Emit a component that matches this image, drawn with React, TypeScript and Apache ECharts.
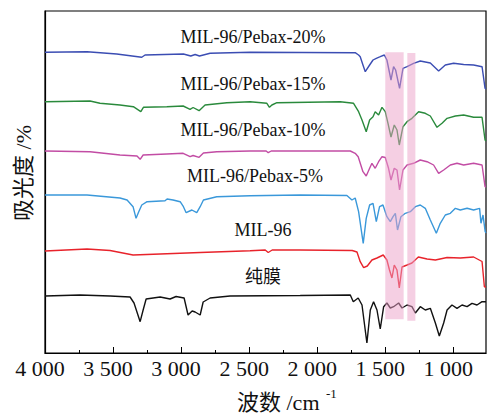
import React, { useEffect, useRef } from "react";
import * as echarts from "echarts";

// Wavenumber (cm^-1) and stacked absorbance-like values (arbitrary units, offset per spectrum)
const pebax20: [number, number][] = [
  [4000, 300.7], [3691, 301.3], [3473, 299], [3289, 295.7], [3265, 298], [2983, 299], [2929, 297],
  [2897, 298.5], [2865, 297], [2787, 299.7], [2493, 300.7], [1721, 300.3], [1696, 298], [1684, 296.3],
  [1664, 288], [1647, 281.3], [1615, 288], [1590, 293], [1566, 294.7], [1537, 296.3], [1507, 298],
  [1488, 293], [1458, 273], [1439, 286.3], [1424, 283], [1395, 264.7], [1370, 284.7], [1340, 286.3],
  [1292, 289.7], [1243, 292], [1169, 290], [1108, 282], [1059, 288], [998, 289.7], [924, 288.5],
  [851, 288], [789, 286.3], [767, 264.7], [760, 264],
];
const pebax15: [number, number][] = [
  [4000, 251.3], [3669, 252], [3596, 249.7], [3449, 248], [3351, 246.3], [3296, 241.3], [3277, 245.7],
  [3105, 246.3], [2985, 247], [2934, 243.7], [2912, 245.5], [2868, 242.3], [2824, 248], [2664, 250.3],
  [2493, 251.3], [2370, 249.7], [2351, 245.7], [2333, 248], [2296, 250.3], [1831, 251.3], [1733, 249.7],
  [1696, 241.3], [1671, 233], [1640, 221.3], [1615, 233], [1590, 236.3], [1574, 241.3], [1549, 238],
  [1524, 245.7], [1500, 241.3], [1480, 229.7], [1458, 216], [1434, 228], [1414, 223], [1397, 208],
  [1370, 226.3], [1340, 231.3], [1304, 234.7], [1255, 241.3], [1206, 239.7], [1169, 237], [1120, 225.7],
  [1083, 229.7], [1046, 234.7], [985, 237], [924, 238], [851, 235.7], [789, 235.7], [767, 213], [760, 212],
];
const pebax10: [number, number][] = [
  [4000, 202], [3669, 201.3], [3449, 198], [3324, 197], [3301, 193.7], [3279, 198], [3105, 199],
  [2985, 199.7], [2934, 196.3], [2912, 197.5], [2868, 195.7], [2836, 200], [2738, 201.3], [2493, 202],
  [2375, 202], [2360, 200.3], [2338, 202], [1757, 202], [1721, 199.7], [1699, 196.3], [1664, 181.3],
  [1640, 177], [1615, 184.7], [1598, 189.7], [1574, 184.7], [1549, 191.3], [1524, 196.3], [1500, 195.5],
  [1476, 184.7], [1458, 173], [1434, 184.7], [1414, 183], [1395, 163], [1370, 183], [1340, 188],
  [1292, 189.7], [1243, 193], [1193, 191.3], [1145, 188], [1108, 179.7], [1071, 183], [1022, 188],
  [973, 189.7], [924, 188], [851, 189.7], [789, 188], [767, 166.3], [760, 166],
];
const pebax5: [number, number][] = [
  [4000, 158], [3691, 158], [3449, 155], [3397, 153], [3353, 146.3], [3331, 134.7], [3312, 141],
  [3289, 148], [3250, 151.3], [3118, 152.3], [3103, 154], [3059, 153], [3007, 151.3], [2983, 146.3],
  [2963, 140.3], [2921, 143], [2885, 140.3], [2860, 146.3], [2836, 153], [2738, 156.3], [2493, 157.3],
  [2125, 158], [1782, 157.5], [1745, 153], [1721, 155], [1696, 141.3], [1662, 109.7], [1640, 134.7],
  [1615, 148], [1590, 149.7], [1566, 131.3], [1542, 146.3], [1517, 148], [1488, 136.3], [1463, 131.3],
  [1443, 136.3], [1426, 139.7], [1410, 123], [1385, 136.3], [1353, 139.7], [1316, 141.3], [1279, 146.3],
  [1243, 148], [1206, 144.7], [1169, 133], [1125, 119.7], [1096, 129.7], [1059, 138], [1022, 139.7],
  [985, 144.7], [949, 143], [899, 144.7], [851, 143], [807, 144.7], [797, 129.7], [782, 138],
  [766, 121.3], [760, 120],
];
const mil96: [number, number][] = [
  [4000, 102], [3691, 104], [3522, 102.5], [3353, 98], [3154, 99], [2860, 100.5], [2493, 102.3],
  [2382, 103], [2360, 100.5], [2331, 103], [2125, 103], [1743, 102.5], [1708, 101], [1684, 91.3],
  [1659, 85.3], [1632, 87], [1598, 93], [1561, 95], [1515, 98], [1488, 93], [1469, 83], [1451, 75],
  [1434, 88], [1414, 83], [1397, 65], [1377, 86], [1340, 88], [1304, 90], [1257, 96], [1193, 94],
  [1132, 93], [1046, 95.5], [949, 95], [851, 96], [789, 91.5], [772, 66.3], [760, 66],
];
const pureFilm: [number, number][] = [
  [4000, 57], [3743, 58], [3522, 57], [3375, 56], [3346, 50], [3301, 31.3], [3279, 43], [3257, 54],
  [3154, 56], [3081, 54], [3037, 56.5], [2978, 55], [2949, 38], [2919, 42], [2897, 41], [2860, 38],
  [2838, 51], [2787, 55], [2640, 57], [2125, 57.5], [1757, 58], [1735, 51.3], [1699, 55], [1671, 48],
  [1635, 10], [1610, 43], [1586, 51.3], [1561, 43], [1537, 24], [1512, 46.3], [1488, 50], [1463, 45],
  [1439, 46.3], [1402, 50], [1377, 45], [1340, 48], [1304, 46.3], [1279, 40], [1243, 46.3], [1206, 43],
  [1169, 44.7], [1132, 30], [1103, 17], [1071, 30], [1046, 43], [1010, 48], [973, 44.7], [936, 48],
  [899, 46.3], [863, 49.7], [826, 48], [789, 51.3], [760, 51.3],
];

const seriesNames = ["MIL-96/Pebax-20%", "MIL-96/Pebax-15%", "MIL-96/Pebax-10%", "MIL-96/Pebax-5%", "MIL-96", "纯膜"];
const seriesData = [pebax20, pebax15, pebax10, pebax5, mil96, pureFilm];
const seriesColors = ["#3b4db3", "#2a8a3c", "#c24ca4", "#3a98da", "#e8232b", "#111111"];

const majorTicks = [1000, 1500, 2000, 2500, 3000, 3500, 4000];
const minorTicks = [1250, 1750, 2250, 2750, 3250, 3750];
// Highlighted bands: [wavenumber from, wavenumber to, value bottom, value top]
const bands: [number, number, number, number][] = [
  [1500, 1365, 33.7, 300.7],
  [1338, 1279, 32.3, 300],
];

const fmt = (v: number) =>
  v >= 1000 ? `${Math.floor(v / 1000)} ${String(v % 1000).padStart(3, "0")}` : String(v);

export default function App() {
  const ref = useRef<HTMLDivElement>(null);
  useEffect(() => {
    document.body.style.margin = "0";
    if (!ref.current) return;
    const chart = echarts.init(ref.current, null, { renderer: "svg" });
    const serif = "Liberation Serif, Noto Sans CJK SC, serif";
    const labelPos = [
      [253, 37], [253, 84], [253, 130], [255, 176], [263, 230], [263, 277],
    ];
    chart.setOption({
      animation: false,
      backgroundColor: "#ffffff",
      grid: { left: 45, right: 1, top: 11, bottom: 62, show: true, borderColor: "#000", borderWidth: 1.2 },
      xAxis: [
        {
          type: "value", inverse: true, min: 760, max: 4000, position: "bottom",
          axisLine: { show: true, lineStyle: { color: "#000", width: 1.2 } },
          axisTick: { show: true, inside: true, length: 6, customValues: majorTicks, lineStyle: { color: "#000" } },
          axisLabel: {
            customValues: majorTicks, formatter: fmt, fontSize: 22, fontFamily: serif, color: "#111",
            margin: 4, padding: [0, 10, 0, 0],
          },
          splitLine: { show: false },
        },
        {
          type: "value", inverse: true, min: 760, max: 4000, position: "bottom",
          axisLine: { show: false },
          axisTick: { show: true, inside: true, length: 3, customValues: minorTicks, lineStyle: { color: "#000" } },
          axisLabel: { show: false },
          splitLine: { show: false },
        },
      ],
      yAxis: {
        type: "value", min: 0, max: 342,
        axisLine: { show: true, lineStyle: { color: "#000", width: 1.2 } },
        axisTick: { show: false }, axisLabel: { show: false }, splitLine: { show: false },
      },
      series: [
        ...seriesData.map((d, i) => ({
          name: seriesNames[i], type: "line", data: d, xAxisIndex: 0, showSymbol: false, symbol: "none",
          lineStyle: { color: seriesColors[i], width: 1.4 }, itemStyle: { color: seriesColors[i] }, z: 3,
        })),
        {
          type: "line", data: [[4000, 0]], xAxisIndex: 0, showSymbol: false, symbol: "none",
          lineStyle: { width: 0, opacity: 0 }, silent: true, z: 10,
          markArea: {
            z: 10, silent: true,
            itemStyle: { color: "rgba(236,160,200,0.5)" },
            data: bands.map((b) => [{ coord: [b[0], b[2]] }, { coord: [b[1], b[3]] }]),
          },
        },
      ],
      graphic: [
        ...seriesNames.map((n, i) => ({
          type: "text", x: labelPos[i][0], y: labelPos[i][1], z: 20,
          style: { text: n, fontSize: 18, fontFamily: serif, fill: "#111", align: "center", verticalAlign: "middle" },
        })),
        {
          type: "text", x: 23, y: 173, rotation: Math.PI / 2, z: 20,
          style: { text: "吸光度 /%", fontSize: 22, fontFamily: serif, fill: "#111", align: "center", verticalAlign: "middle" },
        },
        {
          type: "text", x: 237, y: 402, z: 20,
          style: { text: "波数 /cm", fontSize: 22, fontFamily: serif, fill: "#111", align: "left", verticalAlign: "middle" },
        },
        {
          type: "text", x: 326, y: 393, z: 20,
          style: { text: "-1", fontSize: 13, fontFamily: serif, fill: "#111", align: "left", verticalAlign: "middle" },
        },
      ],
    });
    return () => chart.dispose();
  }, []);
  return <div ref={ref} style={{ width: 487, height: 415 }} />;
}
